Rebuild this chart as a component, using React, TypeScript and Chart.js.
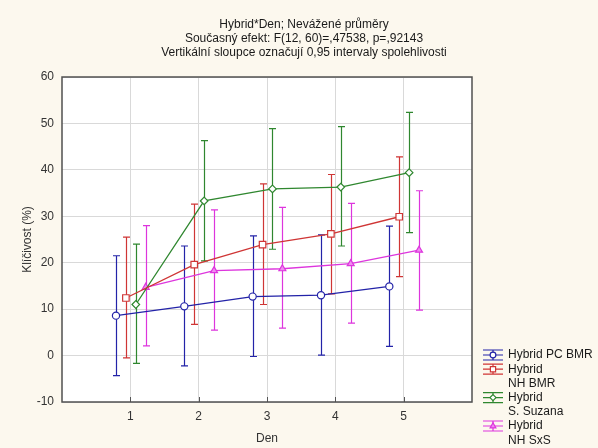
import React, { useEffect, useRef } from "react";
import { Chart, registerables } from "chart.js";

Chart.register(...registerables);

const days = [1, 2, 3, 4, 5];
const xTicks = [1, 2, 3, 4, 5];
const yTicks = [-10, 0, 10, 20, 30, 40, 50, 60];

const titleLines = [
  "Hybrid*Den; Nevážené průměry",
  "Současný efekt: F(12, 60)=,47538, p=,92143",
  "Vertikální sloupce označují 0,95 intervaly spolehlivosti",
];
const xTitle = "Den";
const yTitle = "Klíčivost (%)";

const pcBmrName = ["Hybrid PC BMR"];
const pcBmrMean = [8.6, 10.6, 12.7, 13.0, 14.9];
const pcBmrLow = [-4.3, -2.2, -0.2, 0.1, 2.0];
const pcBmrHigh = [21.5, 23.6, 25.8, 26.0, 27.9];

const nhBmrName = ["Hybrid", "NH BMR"];
const nhBmrMean = [12.4, 19.6, 23.9, 26.2, 29.9];
const nhBmrLow = [-0.5, 6.7, 11.0, 13.3, 17.0];
const nhBmrHigh = [25.5, 32.6, 37.0, 39.0, 42.8];

const suzanaName = ["Hybrid", "S. Suzana"];
const suzanaMean = [11.0, 33.3, 35.9, 36.3, 39.4];
const suzanaLow = [-1.7, 20.4, 22.9, 23.6, 26.5];
const suzanaHigh = [24.0, 46.3, 48.9, 49.3, 52.4];

const sxsName = ["Hybrid", "NH SxS"];
const sxsMean = [14.7, 18.3, 18.7, 19.8, 22.7];
const sxsLow = [2.1, 5.5, 5.9, 7.0, 9.8];
const sxsHigh = [28.0, 31.4, 31.9, 32.8, 35.5];

const FONT = "Arial, 'Liberation Sans', sans-serif";

type Series = {
  name: string[];
  mean: number[];
  low: number[];
  high: number[];
  color: string;
  fill: string;
  style: string;
  radius: number;
  offset: number;
};

const series: Series[] = [
  { name: pcBmrName, mean: pcBmrMean, low: pcBmrLow, high: pcBmrHigh, color: "#2323a8", fill: "#ffffff", style: "circle", radius: 3.6, offset: -0.21 },
  { name: nhBmrName, mean: nhBmrMean, low: nhBmrLow, high: nhBmrHigh, color: "#cf3535", fill: "#ffffff", style: "rect", radius: 4.6, offset: -0.065 },
  { name: suzanaName, mean: suzanaMean, low: suzanaLow, high: suzanaHigh, color: "#2f872f", fill: "#ffffff", style: "rectRot", radius: 3.8, offset: 0.08 },
  { name: sxsName, mean: sxsMean, low: sxsLow, high: sxsHigh, color: "#dd35dd", fill: "#f08cf0", style: "triangle", radius: 4, offset: 0.225 },
];

function drawMarker(ctx: CanvasRenderingContext2D, s: Series, x: number, y: number) {
  ctx.save();
  ctx.strokeStyle = s.color;
  ctx.fillStyle = s.fill;
  ctx.lineWidth = 1.2;
  ctx.beginPath();
  const r = s.radius;
  if (s.style === "circle") {
    ctx.arc(x, y, r, 0, Math.PI * 2);
  } else if (s.style === "rect") {
    const h = r * Math.SQRT1_2;
    ctx.rect(x - h, y - h, 2 * h, 2 * h);
  } else if (s.style === "rectRot") {
    ctx.moveTo(x, y - r);
    ctx.lineTo(x + r, y);
    ctx.lineTo(x, y + r);
    ctx.lineTo(x - r, y);
    ctx.closePath();
  } else {
    ctx.moveTo(x, y - r);
    ctx.lineTo(x + r * 0.9, y + r * 0.6);
    ctx.lineTo(x - r * 0.9, y + r * 0.6);
    ctx.closePath();
  }
  ctx.fill();
  ctx.stroke();
  ctx.restore();
}

const statPlugin = {
  id: "statPlugin",
  beforeDraw(chart: any) {
    const { ctx, chartArea } = chart;
    ctx.save();
    ctx.fillStyle = "#fcf8ee";
    ctx.fillRect(0, 0, chart.width, chart.height);
    ctx.fillStyle = "#ffffff";
    ctx.fillRect(chartArea.left, chartArea.top, chartArea.right - chartArea.left, chartArea.bottom - chartArea.top);
    ctx.restore();
  },
  beforeDatasetsDraw(chart: any) {
    const { ctx } = chart;
    const xs = chart.scales.x;
    const ys = chart.scales.y;
    ctx.save();
    series.forEach((s) => {
      ctx.strokeStyle = s.color;
      ctx.lineWidth = 1.2;
      days.forEach((d, i) => {
        const x = Math.round(xs.getPixelForValue(d + s.offset)) + 0.5;
        const yl = ys.getPixelForValue(s.low[i]);
        const yh = ys.getPixelForValue(s.high[i]);
        ctx.beginPath();
        ctx.moveTo(x, yl);
        ctx.lineTo(x, yh);
        ctx.moveTo(x - 3.5, yl);
        ctx.lineTo(x + 3.5, yl);
        ctx.moveTo(x - 3.5, yh);
        ctx.lineTo(x + 3.5, yh);
        ctx.stroke();
      });
    });
    ctx.restore();
  },
  afterDraw(chart: any) {
    const { ctx, chartArea } = chart;
    const xs = chart.scales.x;
    ctx.save();
    // inner ticks on x axis
    ctx.strokeStyle = "#555555";
    ctx.lineWidth = 1;
    xTicks.forEach((t) => {
      const x = Math.round(xs.getPixelForValue(t)) + 0.5;
      ctx.beginPath();
      ctx.moveTo(x, chartArea.bottom);
      ctx.lineTo(x, chartArea.bottom - 5);
      ctx.stroke();
    });
    // frame
    ctx.strokeStyle = "#505050";
    ctx.lineWidth = 1.5;
    ctx.strokeRect(chartArea.left, chartArea.top, chartArea.right - chartArea.left, chartArea.bottom - chartArea.top);

    // title
    ctx.fillStyle = "#1a1a1a";
    ctx.font = `12px ${FONT}`;
    ctx.textAlign = "center";
    ctx.textBaseline = "middle";
    titleLines.forEach((line, i) => {
      ctx.fillText(line, 304, 25 + 14 * i);
    });

    // legend
    const lx = chartArea.right + 11;
    let ly = chartArea.bottom - 47;
    const lineH = 14.2;
    ctx.textAlign = "left";
    ctx.font = `12px ${FONT}`;
    series.forEach((s) => {
      const cx = lx + 10;
      ctx.strokeStyle = s.color;
      ctx.lineWidth = 1.2;
      ctx.beginPath();
      ctx.moveTo(lx, ly - 5);
      ctx.lineTo(lx + 20, ly - 5);
      ctx.moveTo(lx, ly);
      ctx.lineTo(lx + 20, ly);
      ctx.moveTo(lx, ly + 5);
      ctx.lineTo(lx + 20, ly + 5);
      ctx.moveTo(cx, ly - 5);
      ctx.lineTo(cx, ly + 5);
      ctx.stroke();
      drawMarker(ctx, { ...s, radius: s.radius * 0.8 }, cx, ly);
      ctx.fillStyle = "#1a1a1a";
      s.name.forEach((t) => {
        ctx.fillText(t, lx + 25, ly);
        ly += lineH;
      });
    });
    ctx.restore();
  },
};

export default function App() {
  const ref = useRef<HTMLCanvasElement | null>(null);

  useEffect(() => {
    document.body.style.margin = "0";
    const canvas = ref.current;
    if (!canvas) return;
    const datasets = series.map((s) => ({
      label: s.name.join(" "),
      data: days.map((d, i) => ({ x: d + s.offset, y: s.mean[i] })),
      borderColor: s.color,
      backgroundColor: s.fill,
      borderWidth: 1.3,
      pointStyle: s.style as any,
      pointRadius: s.radius,
      pointBorderWidth: 1.2,
      pointBorderColor: s.color,
      pointBackgroundColor: s.fill,
      tension: 0,
      fill: false,
    }));
    const chart = new Chart(canvas, {
      type: "line",
      data: { datasets },
      plugins: [statPlugin],
      options: {
        animation: false,
        responsive: false,
        layout: { padding: { top: 77, right: 126, bottom: 0, left: 0 } },
        plugins: {
          legend: { display: false },
          title: { display: false },
          tooltip: { enabled: false },
        },
        scales: {
          x: {
            type: "linear",
            min: 0,
            max: 6,
            afterBuildTicks: (scale: any) => {
              scale.ticks = xTicks.map((v) => ({ value: v }));
            },
            afterFit: (scale: any) => {
              scale.height = 46;
            },
            grid: { color: "#d9d9d9", lineWidth: 1, drawTicks: false },
            border: { display: false },
            ticks: {
              padding: 7,
              color: "#333333",
              font: { family: FONT, size: 12 },
            },
            title: {
              display: true,
              text: xTitle,
              color: "#333333",
              font: { family: FONT, size: 12 },
              padding: { top: 0, bottom: 2 },
            },
          },
          y: {
            type: "linear",
            min: -10,
            max: 60,
            afterBuildTicks: (scale: any) => {
              scale.ticks = yTicks.map((v) => ({ value: v }));
            },
            afterFit: (scale: any) => {
              scale.width = 62;
            },
            grid: { color: "#d9d9d9", lineWidth: 1, drawTicks: false },
            border: { display: false },
            ticks: {
              padding: 8,
              color: "#333333",
              font: { family: FONT, size: 12 },
            },
            title: {
              display: true,
              text: yTitle,
              color: "#333333",
              font: { family: FONT, size: 12 },
              padding: { top: 20, bottom: 0 },
            },
          },
        },
      },
    });
    return () => chart.destroy();
  }, []);

  return (
    <div style={{ width: 598, height: 448 }}>
      <canvas ref={ref} width={598} height={448} />
    </div>
  );
}
